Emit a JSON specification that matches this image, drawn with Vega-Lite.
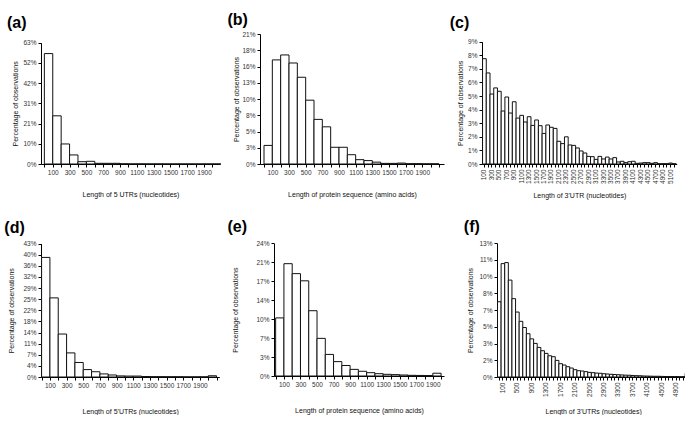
{
  "$schema": "https://vega.github.io/schema/vega-lite/v6.json",
  "padding": {"left": 4, "top": 12, "right": 0, "bottom": 0},
  "background": "white",
  "config": {
    "font": "Liberation Sans",
    "view": {"stroke": null},
    "axis": {"grid": false, "domainColor": "#000", "tickColor": "#000", "tickSize": 3, "labelFontSize": 6.5, "labelColor": "#333", "titleFontSize": 7, "titleFontWeight": "normal", "titleColor": "#111", "labelPadding": 2, "labelOverlap": false, "labelFlush": false},
    "axisY": {"titlePadding": 2},
    "title": {"fontSize": 16, "fontWeight": "bold", "anchor": "start", "frame": "bounds", "color": "#000"},
    "bar": {"fill": "white", "stroke": "#111", "strokeWidth": 1},
    "rect": {"fill": "white", "stroke": "#111", "strokeWidth": 1}
  },
  "datasets": {
    "a": [
      {"start": 0, "end": 100, "pct": 57.3}, {"start": 100, "end": 200, "pct": 25.0}, {"start": 200, "end": 300, "pct": 10.4},
      {"start": 300, "end": 400, "pct": 4.7}, {"start": 400, "end": 500, "pct": 1.2}, {"start": 500, "end": 600, "pct": 1.4},
      {"start": 600, "end": 700, "pct": 0.35}, {"start": 700, "end": 800, "pct": 0.35}, {"start": 800, "end": 900, "pct": 0.35},
      {"start": 900, "end": 1000, "pct": 0.1}, {"start": 1000, "end": 1100, "pct": 0.05}, {"start": 1100, "end": 1200, "pct": 0.05},
      {"start": 1200, "end": 1300, "pct": 0.03}, {"start": 1300, "end": 1400, "pct": 0.03}, {"start": 1400, "end": 1500, "pct": 0.02},
      {"start": 1500, "end": 1600, "pct": 0.02}, {"start": 1600, "end": 1700, "pct": 0.02}, {"start": 1700, "end": 1800, "pct": 0.01},
      {"start": 1800, "end": 1900, "pct": 0.01}, {"start": 1900, "end": 2000, "pct": 0.01}, {"start": 2000, "end": 2100, "pct": 0.02}
    ],
    "b": [
      {"start": 0, "end": 100, "pct": 3.0}, {"start": 100, "end": 200, "pct": 16.8}, {"start": 200, "end": 300, "pct": 17.6},
      {"start": 300, "end": 400, "pct": 16.3}, {"start": 400, "end": 500, "pct": 14.0}, {"start": 500, "end": 600, "pct": 10.3},
      {"start": 600, "end": 700, "pct": 7.2}, {"start": 700, "end": 800, "pct": 6.0}, {"start": 800, "end": 900, "pct": 2.7},
      {"start": 900, "end": 1000, "pct": 2.7}, {"start": 1000, "end": 1100, "pct": 1.5}, {"start": 1100, "end": 1200, "pct": 0.7},
      {"start": 1200, "end": 1300, "pct": 0.55}, {"start": 1300, "end": 1400, "pct": 0.3}, {"start": 1400, "end": 1500, "pct": 0.1},
      {"start": 1500, "end": 1600, "pct": 0.1}, {"start": 1600, "end": 1700, "pct": 0.15}, {"start": 1700, "end": 1800, "pct": 0.05},
      {"start": 1800, "end": 1900, "pct": 0.05}, {"start": 1900, "end": 2000, "pct": 0.03}, {"start": 2000, "end": 2100, "pct": 0.03}
    ],
    "c": [
      {"len": 100, "pct": 7.75}, {"len": 200, "pct": 6.7}, {"len": 300, "pct": 5.15}, {"len": 400, "pct": 5.6}, {"len": 500, "pct": 5.35},
      {"len": 600, "pct": 3.9}, {"len": 700, "pct": 4.93}, {"len": 800, "pct": 3.75}, {"len": 900, "pct": 4.58}, {"len": 1000, "pct": 3.38},
      {"len": 1100, "pct": 3.58}, {"len": 1200, "pct": 3.09}, {"len": 1300, "pct": 3.48}, {"len": 1400, "pct": 2.84}, {"len": 1500, "pct": 3.24},
      {"len": 1600, "pct": 2.82}, {"len": 1700, "pct": 2.25}, {"len": 1800, "pct": 2.87}, {"len": 1900, "pct": 2.7}, {"len": 2000, "pct": 2.62},
      {"len": 2100, "pct": 1.67}, {"len": 2200, "pct": 1.5}, {"len": 2300, "pct": 2.0}, {"len": 2400, "pct": 1.4}, {"len": 2500, "pct": 1.37},
      {"len": 2600, "pct": 1.18}, {"len": 2700, "pct": 0.96}, {"len": 2800, "pct": 0.81}, {"len": 2900, "pct": 0.56}, {"len": 3000, "pct": 0.54},
      {"len": 3100, "pct": 0.34}, {"len": 3200, "pct": 0.56}, {"len": 3300, "pct": 0.37}, {"len": 3400, "pct": 0.51}, {"len": 3500, "pct": 0.37},
      {"len": 3600, "pct": 0.47}, {"len": 3700, "pct": 0.15}, {"len": 3800, "pct": 0.2}, {"len": 3900, "pct": 0.1}, {"len": 4000, "pct": 0.17},
      {"len": 4100, "pct": 0.2}, {"len": 4200, "pct": 0.05}, {"len": 4300, "pct": 0.07}, {"len": 4400, "pct": 0.1}, {"len": 4500, "pct": 0.1},
      {"len": 4600, "pct": 0.05}, {"len": 4700, "pct": 0.1}, {"len": 4800, "pct": 0.02}, {"len": 4900, "pct": 0.02}, {"len": 5000, "pct": 0.02},
      {"len": 5100, "pct": 0.07}, {"len": 5200, "pct": 0.02}
    ],
    "d": [
      {"start": 0, "end": 100, "pct": 38.7}, {"start": 100, "end": 200, "pct": 25.6}, {"start": 200, "end": 300, "pct": 13.9},
      {"start": 300, "end": 400, "pct": 7.8}, {"start": 400, "end": 500, "pct": 4.7}, {"start": 500, "end": 600, "pct": 2.4},
      {"start": 600, "end": 700, "pct": 1.7}, {"start": 700, "end": 800, "pct": 1.0}, {"start": 800, "end": 900, "pct": 0.65},
      {"start": 900, "end": 1000, "pct": 0.35}, {"start": 1000, "end": 1100, "pct": 0.3}, {"start": 1100, "end": 1200, "pct": 0.3},
      {"start": 1200, "end": 1300, "pct": 0.15}, {"start": 1300, "end": 1400, "pct": 0.1}, {"start": 1400, "end": 1500, "pct": 0.1},
      {"start": 1500, "end": 1600, "pct": 0.08}, {"start": 1600, "end": 1700, "pct": 0.08}, {"start": 1700, "end": 1800, "pct": 0.05},
      {"start": 1800, "end": 1900, "pct": 0.05}, {"start": 1900, "end": 2000, "pct": 0.05}, {"start": 2000, "end": 2100, "pct": 0.4}
    ],
    "e": [
      {"start": 0, "end": 100, "pct": 10.5}, {"start": 100, "end": 200, "pct": 20.3}, {"start": 200, "end": 300, "pct": 18.5},
      {"start": 300, "end": 400, "pct": 17.2}, {"start": 400, "end": 500, "pct": 11.8}, {"start": 500, "end": 600, "pct": 6.8},
      {"start": 600, "end": 700, "pct": 3.9}, {"start": 700, "end": 800, "pct": 2.6}, {"start": 800, "end": 900, "pct": 1.9},
      {"start": 900, "end": 1000, "pct": 1.2}, {"start": 1000, "end": 1100, "pct": 0.85}, {"start": 1100, "end": 1200, "pct": 0.6},
      {"start": 1200, "end": 1300, "pct": 0.42}, {"start": 1300, "end": 1400, "pct": 0.3}, {"start": 1400, "end": 1500, "pct": 0.25},
      {"start": 1500, "end": 1600, "pct": 0.18}, {"start": 1600, "end": 1700, "pct": 0.12}, {"start": 1700, "end": 1800, "pct": 0.1},
      {"start": 1800, "end": 1900, "pct": 0.08}, {"start": 1900, "end": 2000, "pct": 0.5}
    ],
    "f": [
      {"len": 0, "pct": 7.3}, {"len": 100, "pct": 11.0}, {"len": 200, "pct": 11.1}, {"len": 300, "pct": 9.4}, {"len": 400, "pct": 7.6},
      {"len": 500, "pct": 6.3}, {"len": 600, "pct": 5.4}, {"len": 700, "pct": 4.8}, {"len": 800, "pct": 4.2}, {"len": 900, "pct": 3.7},
      {"len": 1000, "pct": 3.26}, {"len": 1100, "pct": 2.87}, {"len": 1200, "pct": 2.55}, {"len": 1300, "pct": 2.29}, {"len": 1400, "pct": 2.06},
      {"len": 1500, "pct": 1.97}, {"len": 1600, "pct": 1.61}, {"len": 1700, "pct": 1.29}, {"len": 1800, "pct": 1.16}, {"len": 1900, "pct": 1.0},
      {"len": 2000, "pct": 0.87}, {"len": 2100, "pct": 0.71}, {"len": 2200, "pct": 0.61}, {"len": 2300, "pct": 0.58}, {"len": 2400, "pct": 0.52},
      {"len": 2500, "pct": 0.45}, {"len": 2600, "pct": 0.42}, {"len": 2700, "pct": 0.38}, {"len": 2800, "pct": 0.36}, {"len": 2900, "pct": 0.32},
      {"len": 3000, "pct": 0.29}, {"len": 3100, "pct": 0.26}, {"len": 3200, "pct": 0.24}, {"len": 3300, "pct": 0.22}, {"len": 3400, "pct": 0.2},
      {"len": 3500, "pct": 0.18}, {"len": 3600, "pct": 0.17}, {"len": 3700, "pct": 0.15}, {"len": 3800, "pct": 0.13}, {"len": 3900, "pct": 0.12},
      {"len": 4000, "pct": 0.1}, {"len": 4100, "pct": 0.09}, {"len": 4200, "pct": 0.08}, {"len": 4300, "pct": 0.07}, {"len": 4400, "pct": 0.07},
      {"len": 4500, "pct": 0.06}, {"len": 4600, "pct": 0.05}, {"len": 4700, "pct": 0.05}, {"len": 4800, "pct": 0.04}, {"len": 4900, "pct": 0.04},
      {"len": 5000, "pct": 0.03}, {"len": 5100, "pct": 0.03}, {"len": 5200, "pct": 0.35}
    ]
  },
  "columns": 3,
  "align": "none",
  "spacing": {"row": 20, "column": 5},
  "concat": [
    {
      "title": {"text": "(a)", "dx": -4, "offset": 3},
      "width": 179, "height": 130,
      "data": {"name": "a"},
      "mark": "rect",
      "encoding": {
        "x": {"field": "start", "type": "quantitative", "scale": {"domain": [-40, 2090], "nice": false, "zero": false},
          "axis": {"title": "Length of 5 UTRs (nucleotides)", "titlePadding": 14.5, "values": [0,100,200,300,400,500,600,700,800,900,1000,1100,1200,1300,1400,1500,1600,1700,1800,1900,2000], "labelExpr": "datum.value % 200 == 100 ? datum.value : ''"}},
        "x2": {"field": "end"},
        "y": {"field": "pct", "type": "quantitative", "scale": {"domain": [0, 62.95], "nice": false, "range": [130, 8.7]},
          "axis": {"title": "Percentage of observations", "minExtent": 21, "maxExtent": 21, "values": [0, 10.4917, 20.9833, 31.475, 41.9667, 52.4583, 62.95], "labelExpr": "format(datum.value, '.0f') + '%'"}},
        "y2": {"datum": 0}
      }
    },
    {
      "title": {"text": "(b)", "dx": -4.8, "offset": 3},
      "width": 184, "height": 130,
      "data": {"name": "b"},
      "mark": "rect",
      "encoding": {
        "x": {"field": "start", "type": "quantitative", "scale": {"domain": [-48, 2160], "nice": false, "zero": false},
          "axis": {"title": "Length of protein sequence (amino acids)", "titlePadding": 14.5, "values": [0,100,200,300,400,500,600,700,800,900,1000,1100,1200,1300,1400,1500,1600,1700,1800,1900,2000,2100], "labelExpr": "datum.value % 200 == 100 && datum.value < 2000 ? datum.value : ''"}},
        "x2": {"field": "end"},
        "y": {"field": "pct", "type": "quantitative", "scale": {"domain": [0, 20.98], "nice": false, "range": [130, 0]},
          "axis": {"title": "Percentage of observations", "minExtent": 18.8, "maxExtent": 18.8, "values": [0, 2.6225, 5.245, 7.8675, 10.49, 13.1125, 15.735, 18.3575, 20.98], "labelExpr": "format(datum.value, '.0f') + '%'"}},
        "y2": {"datum": 0}
      }
    },
    {
      "title": {"text": "(c)", "dx": -7.2, "offset": 3},
      "width": 194.7, "height": 130,
      "data": {"name": "c"},
      "mark": "bar",
      "encoding": {
        "x": {"field": "len", "type": "ordinal", "scale": {"paddingInner": 0, "paddingOuter": 0.15},
          "axis": {"title": "Length of 3'UTR (nucleotides)", "titlePadding": 8, "labelAngle": 270, "labelExpr": "datum.value % 200 == 100 ? datum.value : ''"}},
        "y": {"field": "pct", "type": "quantitative", "scale": {"domain": [0, 9], "nice": false, "range": [130, 7.7]},
          "axis": {"title": "Percentage of observations", "minExtent": 16.1, "maxExtent": 16.1, "values": [0,1,2,3,4,5,6,7,8,9], "labelExpr": "format(datum.value, '.0f') + '%'"}}
      }
    },
    {
      "title": {"text": "(d)", "dx": -3, "offset": 5},
      "width": 178.3, "height": 134,
      "data": {"name": "d"},
      "mark": "rect",
      "encoding": {
        "x": {"field": "start", "type": "quantitative", "scale": {"domain": [-7, 2133], "nice": false, "zero": false},
          "axis": {"title": "Length of 5'UTRs (nucleotides)", "titlePadding": 19, "values": [0,100,200,300,400,500,600,700,800,900,1000,1100,1200,1300,1400,1500,1600,1700,1800,1900,2000,2100], "labelExpr": "datum.value % 200 == 100 && datum.value < 2000 ? datum.value : ''"}},
        "x2": {"field": "end"},
        "y": {"field": "pct", "type": "quantitative", "scale": {"domain": [0, 43.2], "nice": false, "range": [134, 0.5]},
          "axis": {"title": "Percentage of observations", "minExtent": 24.7, "maxExtent": 24.7, "values": [0, 3.6, 7.2, 10.8, 14.4, 18, 21.6, 25.2, 28.8, 32.4, 36, 39.6, 43.2], "labelExpr": "format(datum.value, '.0f') + '%'"}},
        "y2": {"datum": 0}
      }
    },
    {
      "title": {"text": "(e)", "dx": -4.1, "offset": 5},
      "width": 170, "height": 134,
      "data": {"name": "e"},
      "mark": "rect",
      "encoding": {
        "x": {"field": "start", "type": "quantitative", "scale": {"domain": [-20, 2035], "nice": false, "zero": false},
          "axis": {"title": "Length of protein sequence (amino acids)", "titlePadding": 19, "values": [0,100,200,300,400,500,600,700,800,900,1000,1100,1200,1300,1400,1500,1600,1700,1800,1900,2000], "labelExpr": "datum.value % 200 == 100 ? datum.value : ''"}},
        "x2": {"field": "end"},
        "y": {"field": "pct", "type": "quantitative", "scale": {"domain": [0, 24], "nice": false, "range": [134, 1.2]},
          "axis": {"title": "Percentage of observations", "minExtent": 33.5, "maxExtent": 33.5, "values": [0, 3.4286, 6.8571, 10.2857, 13.7143, 17.1429, 20.5714, 24], "labelExpr": "format(datum.value, '.0f') + '%'"}},
        "y2": {"datum": 0}
      }
    },
    {
      "title": {"text": "(f)", "dx": -3, "offset": 5},
      "width": 192.3, "height": 134,
      "data": {"name": "f"},
      "mark": "bar",
      "encoding": {
        "x": {"field": "len", "type": "ordinal", "scale": {"paddingInner": 0, "paddingOuter": 0.14},
          "axis": {"title": "Length of 3'UTRs (nucleotides)", "titlePadding": 11, "labelAngle": 270, "labelExpr": "(datum.value - 100) % 400 == 0 && datum.value < 5000 ? datum.value : ''"}},
        "y": {"field": "pct", "type": "quantitative", "scale": {"domain": [0, 13], "nice": false, "range": [134, 0]},
          "axis": {"title": "Percentage of observations", "minExtent": 21.2, "maxExtent": 21.2, "values": [0, 1.625, 3.25, 4.875, 6.5, 8.125, 9.75, 11.375, 13], "labelExpr": "format(datum.value, '.0f') + '%'"}}
      }
    }
  ]
}
